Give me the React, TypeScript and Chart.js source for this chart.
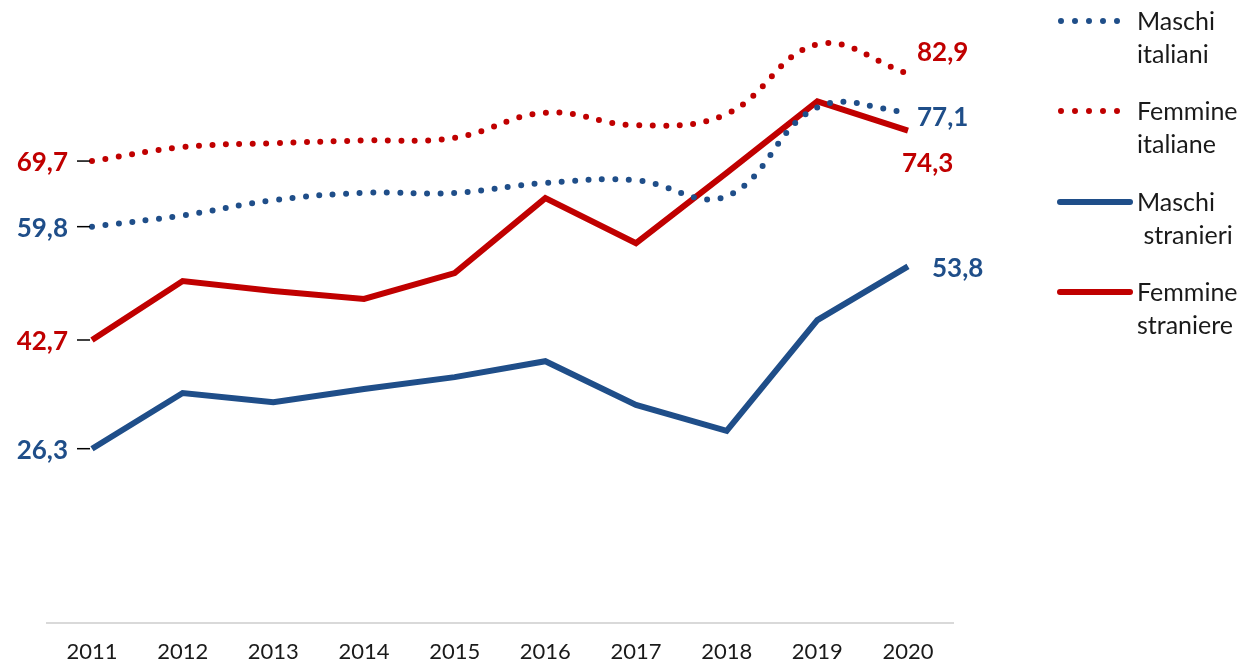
import { useEffect, useRef } from "react";
import { Chart, registerables } from "chart.js";

Chart.register(...registerables);

const years = ["2011", "2012", "2013", "2014", "2015", "2016", "2017", "2018", "2019", "2020"];
const maschiItaliani = [59.8, 61.5, 63.8, 64.9, 64.9, 66.4, 66.8, 64.4, 77.8, 77.1];
const femmineItaliane = [69.7, 71.8, 72.4, 72.8, 73.2, 77.0, 75.1, 76.8, 87.3, 82.9];
const maschiStranieri = [26.3, 34.7, 33.3, 35.3, 37.1, 39.5, 32.9, 29.0, 45.7, 53.8];
const femmineStraniere = [42.7, 51.6, 50.1, 48.9, 52.8, 64.1, 57.3, 67.9, 78.7, 74.3];
const legendLabels = [
  ["Maschi", "italiani"],
  ["Femmine", "italiane"],
  ["Maschi", " stranieri"],
  ["Femmine", "straniere"],
];

const BLUE = "#1F4E89";
const RED = "#C00000";

// label offsets for last-point labels (dx from point, dy from point)
const endOffsets = [
  { dx: 9, dy: 6 },
  { dx: 9, dy: -21 },
  { dx: 24, dy: 2 },
  { dx: -6, dy: 33 },
];

const fmt = (v: number) => v.toFixed(1).replace(".", ",");

const labelPlugin = {
  id: "customLabels",
  afterDatasetsDraw(chart: any) {
    const ctx = chart.ctx;
    ctx.save();
    chart.data.datasets.forEach((ds: any, i: number) => {
      const meta = chart.getDatasetMeta(i);
      const first = meta.data[0];
      const last = meta.data[meta.data.length - 1];
      const color = ds.borderColor;
      ctx.font = "bold 26px Lato";
      ctx.fillStyle = color;
      ctx.textBaseline = "middle";
      // first label
      ctx.textAlign = "right";
      ctx.fillText(fmt(ds.data[0]), first.x - 24, first.y + 2);
      // leader line
      ctx.strokeStyle = "#000";
      ctx.lineWidth = 1.5;
      ctx.beginPath();
      ctx.moveTo(first.x - 15, first.y);
      ctx.lineTo(first.x - 2, first.y);
      ctx.stroke();
      // last label
      const off = endOffsets[i];
      ctx.textAlign = "left";
      ctx.fillText(fmt(ds.data[ds.data.length - 1]), last.x + off.dx, last.y + off.dy);
    });
    ctx.restore();
  },
};

const legendRows = [21, 111, 202, 292];

const legendPlugin = {
  id: "customLegend",
  afterDraw(chart: any) {
    const ctx = chart.ctx;
    ctx.save();
    chart.data.datasets.forEach((ds: any, i: number) => {
      const y = legendRows[i];
      ctx.strokeStyle = ds.borderColor;
      ctx.lineCap = "round";
      ctx.beginPath();
      if (ds.borderDash && ds.borderDash.length) {
        ctx.lineWidth = 6;
        ctx.setLineDash([0, 14]);
        ctx.moveTo(1061, y);
        ctx.lineTo(1118, y);
      } else {
        ctx.lineWidth = 6;
        ctx.setLineDash([]);
        ctx.moveTo(1060, y);
        ctx.lineTo(1130, y);
      }
      ctx.stroke();
      ctx.setLineDash([]);
      ctx.fillStyle = "#1a1a1a";
      ctx.font = "25px Lato";
      ctx.textAlign = "left";
      ctx.textBaseline = "middle";
      const [l1, l2] = legendLabels[i];
      ctx.fillText(l1, 1137, y + 1);
      ctx.fillText(l2, 1137, y + 34);
    });
    ctx.restore();
  },
};

export default function App() {
  const ref = useRef<HTMLCanvasElement>(null);
  useEffect(() => {
    if (!ref.current) return;
    const dotted = {
      borderDash: [0, 13.5],
      borderCapStyle: "round",
      borderWidth: 6,
      tension: 0.4,
      pointRadius: 0,
      fill: false,
    };
    const solid = {
      borderWidth: 6,
      tension: 0,
      pointRadius: 0,
      fill: false,
      borderJoinStyle: "miter",
    };
    const chart = new Chart(ref.current, {
      type: "line",
      data: {
        labels: years,
        datasets: [
          { label: "Maschi italiani", data: maschiItaliani, borderColor: BLUE, backgroundColor: BLUE, ...dotted } as any,
          { label: "Femmine italiane", data: femmineItaliane, borderColor: RED, backgroundColor: RED, ...dotted } as any,
          { label: "Maschi stranieri", data: maschiStranieri, borderColor: BLUE, backgroundColor: BLUE, ...solid } as any,
          { label: "Femmine straniere", data: femmineStraniere, borderColor: RED, backgroundColor: RED, ...solid } as any,
        ],
      },
      options: {
        responsive: false,
        animation: false,
        layout: { padding: { left: 46.67, right: 304.67, top: 0, bottom: 0 } },
        plugins: {
          legend: { display: false },
          tooltip: { enabled: false },
          title: { display: false },
        },
        scales: {
          x: {
            offset: true,
            grid: { display: false, drawTicks: false },
            border: { display: true, color: "#d9d9d9", width: 2 },
            ticks: { color: "#1a1a1a", font: { family: "Lato", size: 22 }, padding: 16, maxRotation: 0 },
            afterFit: (scale: any) => {
              scale.height = 41;
            },
          },
          y: {
            display: false,
            min: 0,
            max: 94,
          },
        },
        elements: { line: { clip: false } as any },
      },
      plugins: [labelPlugin, legendPlugin],
    });
    return () => chart.destroy();
  }, []);
  return (
    <div style={{ position: "absolute", left: 0, top: 0, width: 1258, height: 664, background: "#fff" }}>
      <canvas ref={ref} width={1258} height={664} />
    </div>
  );
}
